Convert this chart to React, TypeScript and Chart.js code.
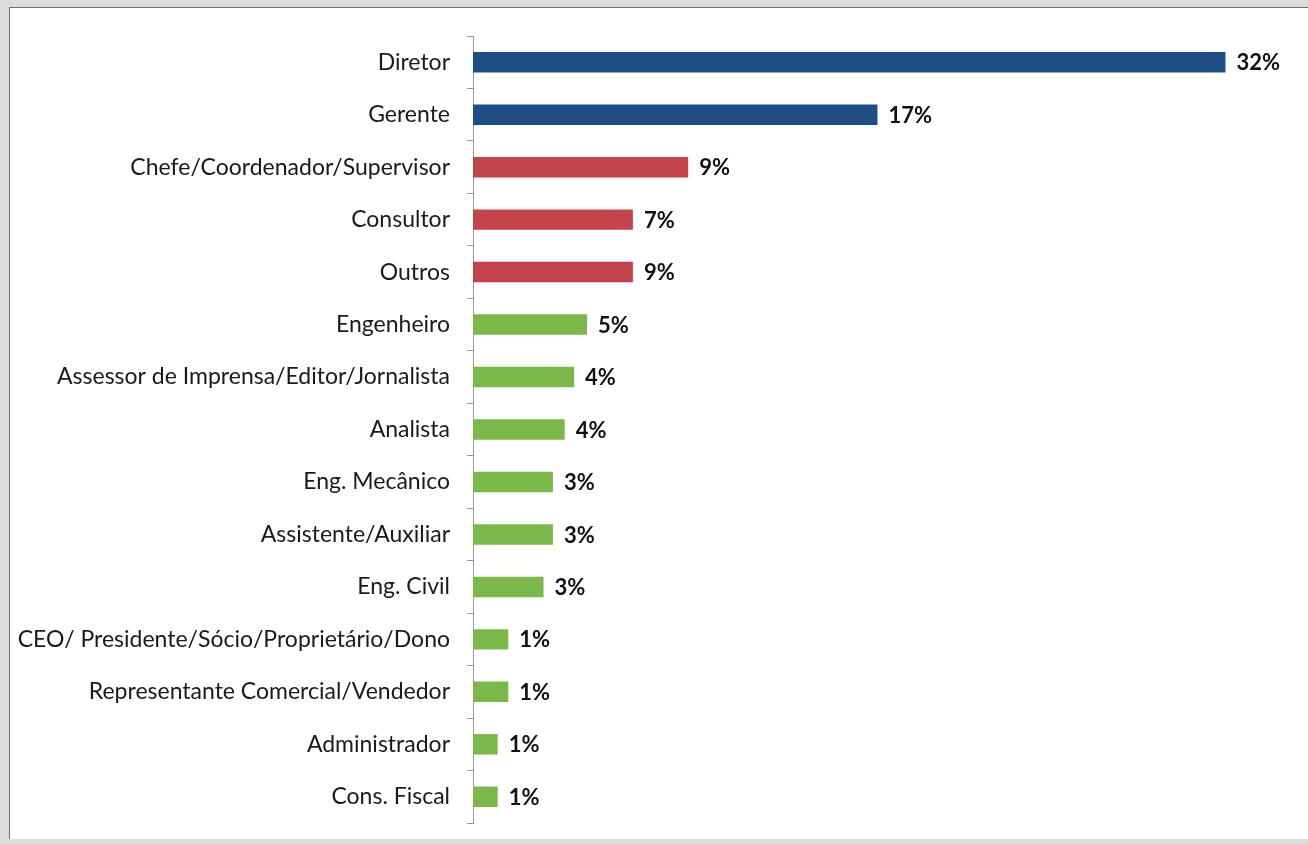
import React, { useEffect, useRef } from "react";
import { Chart, registerables } from "chart.js";

Chart.register(...registerables);

const categories = [
  "Diretor",
  "Gerente",
  "Chefe/Coordenador/Supervisor",
  "Consultor",
  "Outros",
  "Engenheiro",
  "Assessor de Imprensa/Editor/Jornalista",
  "Analista",
  "Eng. Mecânico",
  "Assistente/Auxiliar",
  "Eng. Civil",
  "CEO/ Presidente/Sócio/Proprietário/Dono",
  "Representante Comercial/Vendedor",
  "Administrador",
  "Cons. Fiscal",
];

// bar lengths as drawn in the picture (percent)
const barValues = [32, 17.2, 9.15, 6.8, 6.8, 4.85, 4.3, 3.9, 3.4, 3.4, 3.0, 1.5, 1.5, 1.05, 1.05];

// value labels printed next to the bars
const valueLabels = ["32%", "17%", "9%", "7%", "9%", "5%", "4%", "4%", "3%", "3%", "3%", "1%", "1%", "1%", "1%"];

// colour group of each bar
const groups = ["blue", "blue", "red", "red", "red", "green", "green", "green", "green", "green", "green", "green", "green", "green", "green"];

const palette: Record<string, string> = {
  blue: "#1F4E85",
  red: "#C4444B",
  green: "#7BB84A",
};

const FONT = "Lato, 'Open Sans', sans-serif";

const valueLabelPlugin = {
  id: "valueLabels",
  afterDatasetsDraw(chart: any) {
    const { ctx } = chart;
    const meta = chart.getDatasetMeta(0);
    ctx.save();
    ctx.font = `bold 22px ${FONT}`;
    ctx.fillStyle = "#111";
    ctx.textAlign = "left";
    ctx.textBaseline = "middle";
    meta.data.forEach((bar: any, i: number) => {
      ctx.fillText(valueLabels[i], bar.x + 11, bar.y + 1);
    });
    ctx.restore();
  },
};

export default function App() {
  const ref = useRef<HTMLCanvasElement | null>(null);

  useEffect(() => {
    document.body.style.margin = "0";
    if (!ref.current) return;
    const chart = new Chart(ref.current, {
      type: "bar",
      data: {
        labels: categories,
        datasets: [
          {
            data: barValues,
            backgroundColor: groups.map((g) => palette[g]),
            borderWidth: 0,
            categoryPercentage: 1,
            barPercentage: 0.39,
          },
        ],
      },
      options: {
        indexAxis: "y",
        animation: false,
        responsive: false,
        maintainAspectRatio: false,
        layout: { padding: { top: 28, bottom: 15, left: 0, right: 12 } },
        plugins: {
          legend: { display: false },
          tooltip: { enabled: false },
        },
        scales: {
          x: {
            display: false,
            min: 0,
            max: 35,
          },
          y: {
            grid: {
              drawOnChartArea: false,
              drawTicks: true,
              tickLength: 6,
              color: "#9a9a9a",
              offset: true,
            },
            border: { display: true, color: "#9a9a9a", width: 1 },
            ticks: {
              color: "#1a1a1a",
              padding: 17,
              font: { family: FONT, size: 23 },
            },
            afterFit(scale: any) {
              scale.width = 463;
              scale.paddingTop = 0;
              scale.paddingBottom = 0;
            },
          },
        },
      },
      plugins: [valueLabelPlugin],
    });
    return () => chart.destroy();
  }, []);

  return (
    <div
      style={{
        width: 1308,
        height: 844,
        background: "#dcdcdc",
        position: "relative",
        overflow: "hidden",
      }}
    >
      <div
        style={{
          position: "absolute",
          left: 9,
          top: 7,
          width: 1299,
          height: 831,
          background: "#ffffff",
          borderTop: "1px solid #707070",
          borderLeft: "1px solid #707070",
        }}
      >
        <canvas ref={ref} width={1298} height={830} style={{ display: "block" }} />
      </div>
    </div>
  );
}
